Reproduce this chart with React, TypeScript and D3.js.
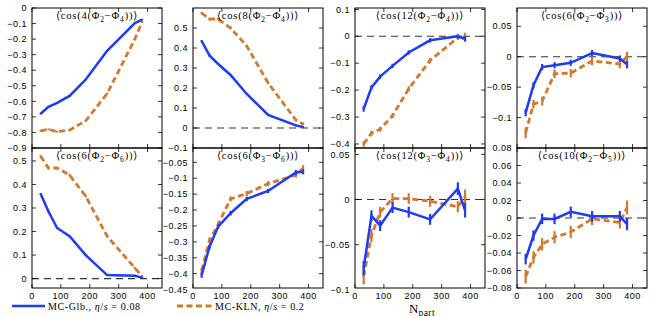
import React from "react";
import * as d3 from "d3";

const npart = [30, 57, 87, 130, 186, 260, 356, 381];
const xTicks = [0, 100, 200, 300, 400];

// <cos(4(Phi2-Phi4))>
const c424Glb = [-0.68, -0.635, -0.61, -0.565, -0.46, -0.275, -0.097, -0.075];
const c424Kln = [-0.79, -0.78, -0.795, -0.785, -0.725, -0.55, -0.2, -0.09];
const c424GlbErr = [0.005, 0.005, 0.005, 0.005, 0.005, 0.005, 0.005, 0.005];
const c424KlnErr = [0.006, 0.006, 0.006, 0.006, 0.006, 0.006, 0.006, 0.006];

// <cos(8(Phi2-Phi4))>
const c824Glb = [0.435, 0.363, 0.32, 0.265, 0.17, 0.066, 0.013, 0.005];
const c824Kln = [0.575, 0.545, 0.545, 0.5, 0.41, 0.225, 0.04, 0.02];
const c824GlbErr = [0.005, 0.005, 0.005, 0.005, 0.005, 0.005, 0.005, 0.005];
const c824KlnErr = [0.006, 0.006, 0.006, 0.006, 0.006, 0.006, 0.006, 0.006];

// <cos(12(Phi2-Phi4))>
const c1224Glb = [-0.27, -0.19, -0.15, -0.11, -0.06, -0.015, 0.0, -0.01];
const c1224Kln = [-0.4, -0.36, -0.345, -0.295, -0.195, -0.09, -0.005, 0.003];
const c1224GlbErr = [0.01, 0.008, 0.008, 0.008, 0.008, 0.008, 0.008, 0.01];
const c1224KlnErr = [0.01, 0.009, 0.009, 0.009, 0.009, 0.009, 0.009, 0.01];

// <cos(6(Phi2-Phi3))>
const c623Glb = [-0.092, -0.047, -0.017, -0.014, -0.01, 0.006, -0.003, -0.013];
const c623Kln = [-0.125, -0.078, -0.073, -0.028, -0.027, -0.007, -0.012, 0.0];
const c623GlbErr = [0.006, 0.005, 0.005, 0.005, 0.005, 0.005, 0.005, 0.006];
const c623KlnErr = [0.009, 0.007, 0.007, 0.007, 0.007, 0.007, 0.007, 0.008];

// <cos(6(Phi2-Phi6))>
const c626Glb = [0.36, 0.285, 0.215, 0.18, 0.1, 0.015, 0.012, 0.004];
const c626Kln = [0.52, 0.47, 0.47, 0.44, 0.35, 0.18, 0.045, 0.01];
const c626GlbErr = [0.004, 0.004, 0.004, 0.004, 0.004, 0.004, 0.004, 0.004];
const c626KlnErr = [0.005, 0.005, 0.005, 0.005, 0.005, 0.005, 0.005, 0.005];

// <cos(6(Phi3-Phi6))>
const c636Glb = [-0.405, -0.315, -0.252, -0.21, -0.165, -0.14, -0.082, -0.08];
const c636Kln = [-0.39, -0.295, -0.245, -0.165, -0.148, -0.117, -0.09, -0.068];
const c636GlbErr = [0.008, 0.007, 0.007, 0.007, 0.007, 0.007, 0.008, 0.008];
const c636KlnErr = [0.009, 0.008, 0.008, 0.008, 0.008, 0.008, 0.008, 0.009];

// <cos(12(Phi3-Phi4))>
const c1234Glb = [-0.076, -0.018, -0.029, -0.009, -0.014, -0.022, 0.012, -0.012];
const c1234Kln = [-0.085, -0.04, -0.014, 0.001, 0.001, -0.002, -0.008, 0.003];
const c1234GlbErr = [0.008, 0.006, 0.006, 0.006, 0.006, 0.006, 0.007, 0.008];
const c1234KlnErr = [0.009, 0.007, 0.006, 0.006, 0.006, 0.006, 0.006, 0.008];

// <cos(10(Phi2-Phi5))>
const c1025Glb = [-0.047, -0.02, -0.001, -0.001, 0.007, 0.002, 0.002, -0.007];
const c1025Kln = [-0.067, -0.045, -0.03, -0.022, -0.016, -0.001, -0.005, 0.012];
const c1025GlbErr = [0.006, 0.006, 0.006, 0.006, 0.006, 0.006, 0.006, 0.007];
const c1025KlnErr = [0.008, 0.007, 0.007, 0.007, 0.007, 0.007, 0.007, 0.008];

const BLUE = "#1f3bf5";
const ORANGE = "#d4782c";

const panels = [
  { n: "4", a: "2", b: "4", glb: c424Glb, kln: c424Kln, ge: c424GlbErr, ke: c424KlnErr,
    domain: [-0.9, 0], ticks: [0, -0.1, -0.2, -0.3, -0.4, -0.5, -0.6, -0.7, -0.8, -0.9], row: 0, col: 0 },
  { n: "8", a: "2", b: "4", glb: c824Glb, kln: c824Kln, ge: c824GlbErr, ke: c824KlnErr,
    domain: [-0.1, 0.6], ticks: [0.5, 0.4, 0.3, 0.2, 0.1, 0, -0.1], row: 0, col: 1 },
  { n: "12", a: "2", b: "4", glb: c1224Glb, kln: c1224Kln, ge: c1224GlbErr, ke: c1224KlnErr,
    domain: [-0.415, 0.105], ticks: [0.1, 0, -0.1, -0.2, -0.3, -0.4], row: 0, col: 2 },
  { n: "6", a: "2", b: "3", glb: c623Glb, kln: c623Kln, ge: c623GlbErr, ke: c623KlnErr,
    domain: [-0.15, 0.08], ticks: [0.05, 0, -0.05, -0.1], row: 0, col: 3 },
  { n: "6", a: "2", b: "6", glb: c626Glb, kln: c626Kln, ge: c626GlbErr, ke: c626KlnErr,
    domain: [-0.04, 0.555], ticks: [0.5, 0.4, 0.3, 0.2, 0.1, 0], row: 1, col: 0 },
  { n: "6", a: "3", b: "6", glb: c636Glb, kln: c636Kln, ge: c636GlbErr, ke: c636KlnErr,
    domain: [-0.445, -0.005], ticks: [-0.05, -0.1, -0.15, -0.2, -0.25, -0.3, -0.35, -0.4, -0.45], row: 1, col: 1 },
  { n: "12", a: "3", b: "4", glb: c1234Glb, kln: c1234Kln, ge: c1234GlbErr, ke: c1234KlnErr,
    domain: [-0.098, 0.057], ticks: [0.05, 0, -0.05, -0.1], row: 1, col: 2 },
  { n: "10", a: "2", b: "5", glb: c1025Glb, kln: c1025Kln, ge: c1025GlbErr, ke: c1025KlnErr,
    domain: [-0.08, 0.08], ticks: [0.08, 0.06, 0.04, 0.02, 0, -0.02, -0.04, -0.06, -0.08], row: 1, col: 3 },
];

const lefts = [32, 193, 355, 517];
const W = 130;
const tops = [8, 148];
const H = 140;

const fmt = (v: number) => {
  if (Math.abs(v) < 1e-9) return "0";
  const s = String(+v.toFixed(2));
  return s.replace("-", "\u2212");
};

const Panel = ({ p }: { p: any }) => {
  const x0 = lefts[p.col];
  const y0 = tops[p.row];
  const x = d3.scaleLinear().domain([0, 450]).range([x0, x0 + W]);
  const y = d3.scaleLinear().domain(p.domain).range([y0 + H, y0]);
  const line = d3
    .line<number>()
    .x((_, i) => x(npart[i]))
    .y((d) => y(d));
  const inside = (v: number) => v >= p.domain[0] - 1e-6 && v <= p.domain[1] + 1e-6;
  const showZero = p.domain[0] < 0 && p.domain[1] > 0.001;
  const cx = x0 + W / 2;
  return (
    <g>
      {showZero && (
        <line x1={x0} x2={x0 + W} y1={y(0)} y2={y(0)} stroke="#333" strokeWidth={1.1} strokeDasharray="7,5" />
      )}
      {xTicks.map((t) => (
        <g key={"xt" + t}>
          <line x1={x(t)} x2={x(t)} y1={y0 + H} y2={y0 + H - 4} stroke="#000" strokeWidth={0.8} />
          <line x1={x(t)} x2={x(t)} y1={y0} y2={y0 + 4} stroke="#000" strokeWidth={0.8} />
        </g>
      ))}
      {p.ticks.filter(inside).map((t: number) => (
        <g key={"yt" + t}>
          <line x1={x0} x2={x0 + 4} y1={y(t)} y2={y(t)} stroke="#000" strokeWidth={0.8} />
          <line x1={x0 + W} x2={x0 + W - 4} y1={y(t)} y2={y(t)} stroke="#000" strokeWidth={0.8} />
        </g>
      ))}
      {p.ticks.map((t: number) => (
        <text
          key={"yl" + t}
          x={x0 - 5}
          y={y(t) + 3.2}
          textAnchor="end"
          fontFamily="Liberation Sans, Arial, sans-serif"
          fontSize={9}
          letterSpacing={0.5}
          fill="#000"
        >
          {fmt(t)}
        </text>
      ))}
      {p.row === 1 &&
        xTicks.map((t) => (
          <text
            key={"xl" + t}
            x={x(t)}
            y={y0 + H + 10.5}
            textAnchor="middle"
            fontFamily="Liberation Sans, Arial, sans-serif"
            fontSize={9}
            letterSpacing={0.5}
            fill="#000"
          >
            {t}
          </text>
        ))}
      <path d={line(p.kln) || ""} fill="none" stroke={ORANGE} strokeWidth={2.8} strokeDasharray="6,3.5" />
      {p.kln.map((v: number, i: number) => (
        <line key={"ke" + i} x1={x(npart[i])} x2={x(npart[i])} y1={y(v - p.ke[i])} y2={y(v + p.ke[i])}
          stroke={ORANGE} strokeWidth={2.2} />
      ))}
      <path d={line(p.glb) || ""} fill="none" stroke={BLUE} strokeWidth={2.5} />
      {p.glb.map((v: number, i: number) => (
        <line key={"ge" + i} x1={x(npart[i])} x2={x(npart[i])} y1={y(v - p.ge[i])} y2={y(v + p.ge[i])}
          stroke={BLUE} strokeWidth={2.2} />
      ))}
      <rect x={x0} y={y0} width={W} height={H} fill="none" stroke="#000" strokeWidth={1} />
      <text
        x={cx}
        y={y0 + 11}
        textAnchor="middle"
        fontFamily="Liberation Serif, DejaVu Serif, serif"
        fontSize={10.5}
        letterSpacing={0.8}
        fill="#000"
      >
        {"\u27e8cos(" + p.n + "(\u03a6"}
        <tspan fontSize={7.5} dy={2.5}>{p.a}</tspan>
        <tspan dy={-2.5}>{"\u2212\u03a6"}</tspan>
        <tspan fontSize={7.5} dy={2.5}>{p.b}</tspan>
        <tspan dy={-2.5}>{"))\u27e9"}</tspan>
      </text>
    </g>
  );
};

export default function App() {
  return (
    <svg width={664} height={316} style={{ position: "absolute", left: 0, top: 0, background: "#fff" }}>
      <rect width={664} height={316} fill="#fff" />
      {panels.map((p, i) => (
        <Panel key={i} p={p} />
      ))}
      <line x1={12} x2={45} y1={306} y2={306} stroke={BLUE} strokeWidth={2.5} />
      <text x={48} y={309.5} fontFamily="Liberation Serif, DejaVu Serif, serif" fontSize={10} letterSpacing={0.6} fill="#000">
        MC-Glb., <tspan fontStyle="italic">η</tspan>/<tspan fontStyle="italic">s</tspan> = 0.08
      </text>
      <line x1={177} x2={212} y1={306} y2={306} stroke={ORANGE} strokeWidth={2.8} strokeDasharray="6,3.5" />
      <text x={215} y={309.5} fontFamily="Liberation Serif, DejaVu Serif, serif" fontSize={10} letterSpacing={0.6} fill="#000">
        MC-KLN, <tspan fontStyle="italic">η</tspan>/<tspan fontStyle="italic">s</tspan> = 0.2
      </text>
      <text x={409} y={313} fontFamily="Liberation Serif, DejaVu Serif, serif" fontSize={13} fill="#000">
        N<tspan fontSize={9.5} dy={2.5} letterSpacing={0.5}>part</tspan>
      </text>
    </svg>
  );
}
